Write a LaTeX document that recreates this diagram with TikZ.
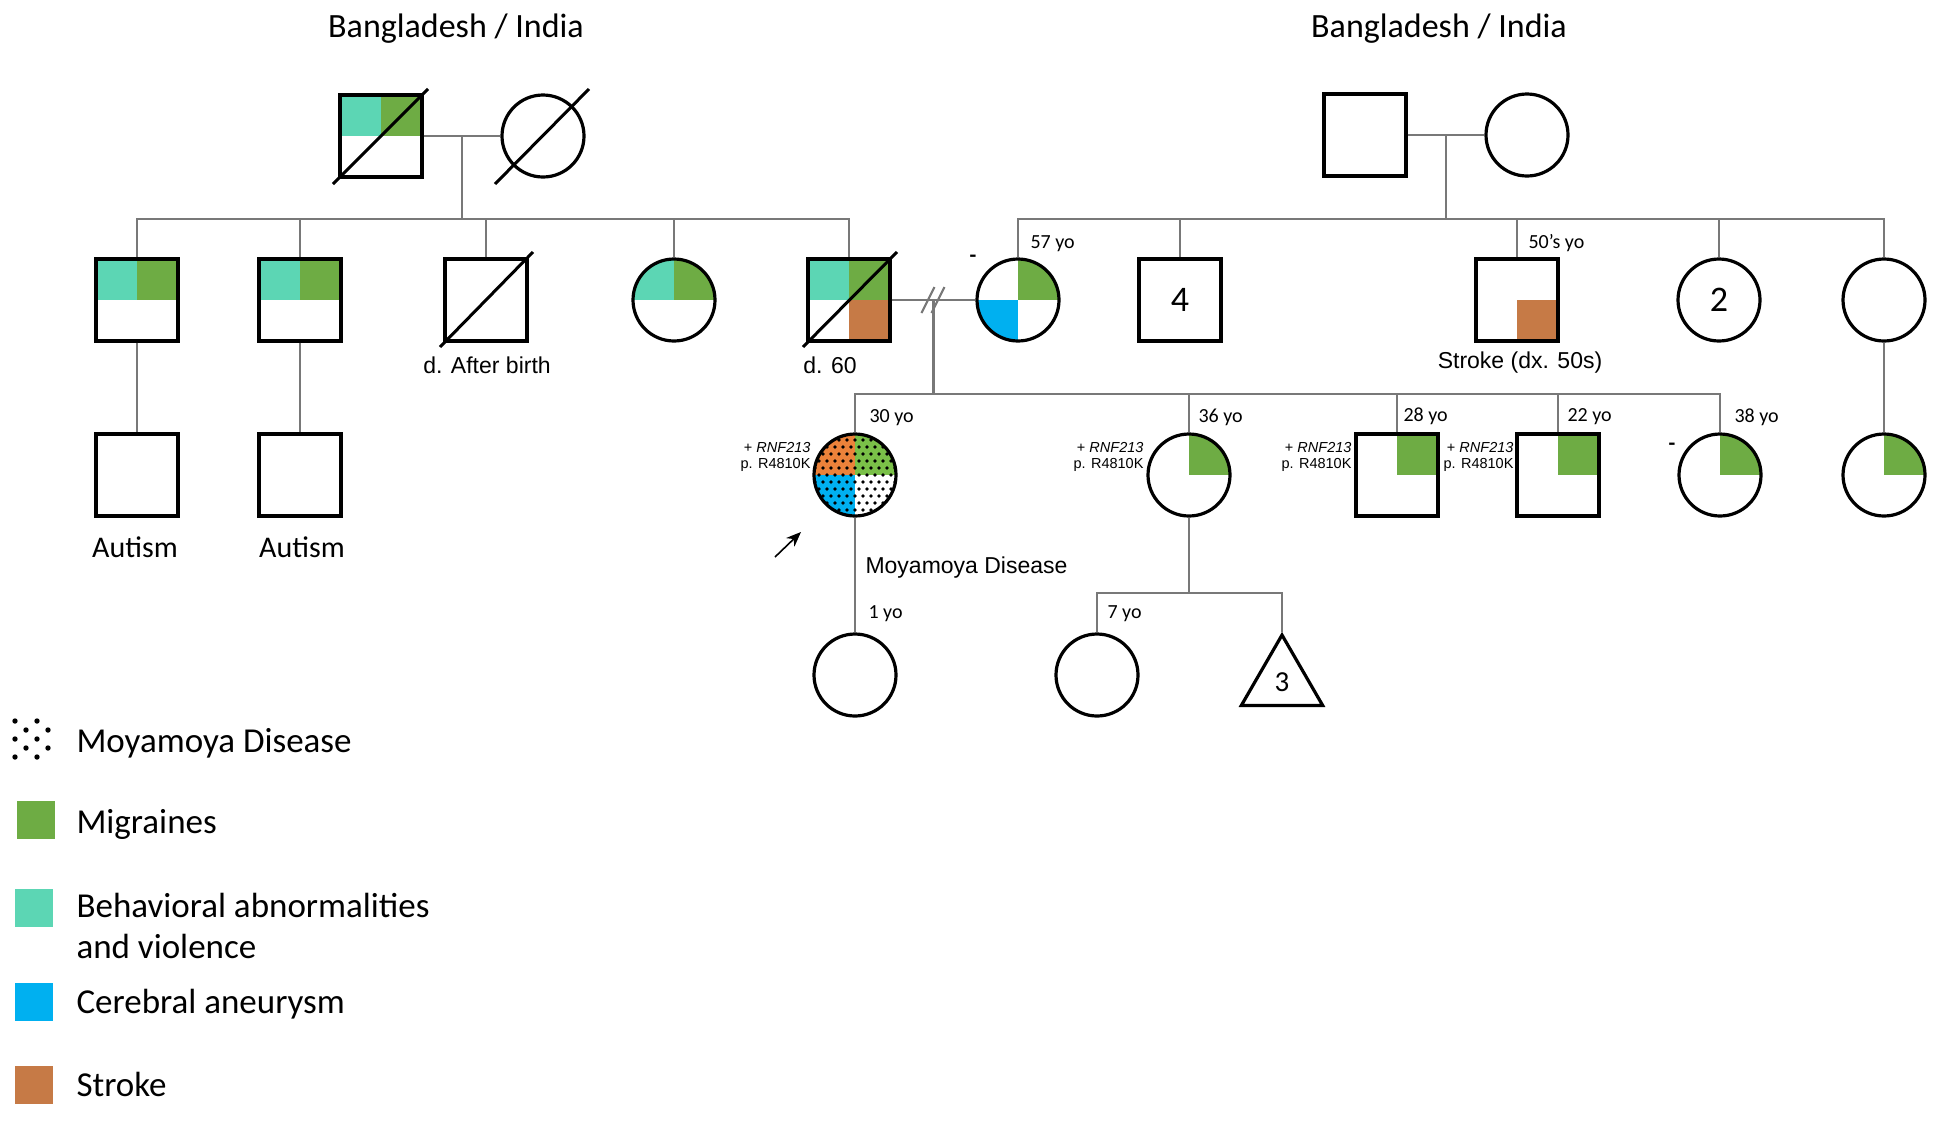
\documentclass[tikz,border=0pt]{standalone}
\usepackage{fontspec}
\setmainfont{Carlito}
\newfontfamily\arialf{Liberation Sans}
\usetikzlibrary{shapes.geometric,arrows.meta,calc}
\definecolor{teal1}{RGB}{92,214,180}
\definecolor{green1}{RGB}{110,172,68}
\definecolor{blue1}{RGB}{0,176,240}
\definecolor{brown1}{RGB}{198,122,70}
\definecolor{orange2}{RGB}{236,130,58}
\definecolor{green2}{RGB}{122,192,72}
\definecolor{linegray}{RGB}{120,120,120}
\newcommand{\fsz}[2]{\fontsize{#1}{#2}\selectfont}
\begin{document}
\begin{tikzpicture}[x=1pt,y=-1pt,
  male/.style={draw=black,line width=3.2pt,rectangle,minimum size=82pt,inner sep=0pt},
  female/.style={draw=black,line width=3.2pt,circle,minimum size=82pt,inner sep=0pt},
  conn/.style={draw=linegray,line width=2.2pt},
  deadline/.style={draw=black,line width=3pt},
  titletext/.style={font=\fsz{34}{40},anchor=base},
  agetext/.style={font=\fsz{20}{24},anchor=base west},
  genetext/.style={font=\arialf\fsz{14.5}{16.5},align=right,anchor=east,text=black},
  lbltext/.style={font=\arialf\fsz{23}{28},anchor=base},
  legtext/.style={font=\fsz{35}{41},anchor=base west},
  swatch/.style={rectangle,minimum size=38pt,inner sep=0pt},
  numtext/.style={font=\fsz{36}{40}},
  dashmark/.style={font=\fsz{22}{26}\bfseries,inner sep=0pt},
]
\useasboundingbox (0,0) rectangle (1933,1120);

% ---------- centres ----------
\coordinate (cA) at (381,136);
\coordinate (cB) at (543,136);
\coordinate (cC) at (1365,135);
\coordinate (cD) at (1527,135);
\coordinate (c21) at (137,300);
\coordinate (c22) at (300,300);
\coordinate (c23) at (486,300);
\coordinate (c24) at (674,300);
\coordinate (c25) at (849,300);
\coordinate (c26) at (1018,300);
\coordinate (c27) at (1180,300);
\coordinate (c28) at (1517,300);
\coordinate (c29) at (1719,300);
\coordinate (c2a) at (1884,300);
\coordinate (c31) at (137,475);
\coordinate (c32) at (300,475);
\coordinate (c33) at (855,475);
\coordinate (c34) at (1189,475);
\coordinate (c35) at (1397,475);
\coordinate (c36) at (1558,475);
\coordinate (c37) at (1720,475);
\coordinate (c38) at (1884,475);
\coordinate (c41) at (855,675);
\coordinate (c42) at (1097,675);

% ---------- fills ----------
\fill[teal1] (cA) rectangle ++(-41,-41);
\fill[green1] (cA) rectangle ++(41,-41);
\fill[teal1] (c21) rectangle ++(-41,-41);
\fill[green1] (c21) rectangle ++(41,-41);
\fill[teal1] (c22) rectangle ++(-41,-41);
\fill[green1] (c22) rectangle ++(41,-41);
\begin{scope}
  \clip (c24) circle (41);
  \fill[teal1] (c24) rectangle ++(-41,-41);
  \fill[green1] (c24) rectangle ++(41,-41);
\end{scope}
\fill[teal1] (c25) rectangle ++(-41,-41);
\fill[green1] (c25) rectangle ++(41,-41);
\fill[brown1] (c25) rectangle ++(41,41);
\begin{scope}
  \clip (c26) circle (41);
  \fill[green1] (c26) rectangle ++(41,-41);
  \fill[blue1] (c26) rectangle ++(-41,41);
\end{scope}
\fill[brown1] (c28) rectangle ++(41,41);
% proband
\begin{scope}
  \clip (c33) circle (41);
  \fill[orange2] (c33) rectangle ++(-41,-41);
  \fill[green2] (c33) rectangle ++(41,-41);
  \fill[blue1] (c33) rectangle ++(-41,41);
  \foreach \r in {0,...,12}{
    \foreach \c in {0,...,11}{
      \pgfmathsetmacro{\dx}{\c*8-44+4*mod(\r,2)}
      \pgfmathsetmacro{\dy}{\r*7-42}
      \fill[black] (c33) ++(\dx,\dy) circle (1.8);
    }
  }
\end{scope}
\begin{scope}
  \clip (c34) circle (41);
  \fill[green1] (c34) rectangle ++(41,-41);
\end{scope}
\fill[green1] (c35) rectangle ++(41,-41);
\fill[green1] (c36) rectangle ++(41,-41);
\begin{scope}
  \clip (c37) circle (41);
  \fill[green1] (c37) rectangle ++(41,-41);
\end{scope}
\begin{scope}
  \clip (c38) circle (41);
  \fill[green1] (c38) rectangle ++(41,-41);
\end{scope}

% ---------- individuals ----------
\node[male] (gA) at (cA) {};
\node[female] (gB) at (cB) {};
\node[male] (gC) at (cC) {};
\node[female] (gD) at (cD) {};
\node[male] (n21) at (c21) {};
\node[male] (n22) at (c22) {};
\node[male] (n23) at (c23) {};
\node[female] (n24) at (c24) {};
\node[male] (n25) at (c25) {};
\node[female] (n26) at (c26) {};
\node[male,numtext] (n27) at (c27) {4};
\node[male] (n28) at (c28) {};
\node[female,numtext] (n29) at (c29) {2};
\node[female] (n2a) at (c2a) {};
\node[male] (n31) at (c31) {};
\node[male] (n32) at (c32) {};
\node[female] (n33) at (c33) {};
\node[female] (n34) at (c34) {};
\node[male] (n35) at (c35) {};
\node[male] (n36) at (c36) {};
\node[female] (n37) at (c37) {};
\node[female] (n38) at (c38) {};
\node[female] (n41) at (c41) {};
\node[female] (n42) at (c42) {};
\node[draw=black,line width=3.2pt,regular polygon,regular polygon sides=3,minimum size=94pt,inner sep=0pt,font=\fsz{29}{32}] (tri) at (1282,682) {3};

% deceased lines
\draw[deadline] ($(cA)+(-48,48)$) -- ($(cA)+(47,-47)$);
\draw[deadline] ($(cB)+(-48,48)$) -- ($(cB)+(46,-47)$);
\draw[deadline] ($(c23)+(-46,47)$) -- ($(c23)+(47,-48)$);
\draw[deadline] ($(c25)+(-46,47)$) -- ($(c25)+(48,-48)$);

% ---------- connectors ----------
\coordinate (s1) at (0,219);
\coordinate (s3) at (0,394);
\coordinate (s4) at (0,593);
% left family
\draw[conn] (gA.east) -- (gB.west);
\coordinate (m1) at ($(gA.east)!0.5!(gB.west)$);
\draw[conn] (m1) -- (m1 |- s1);
\draw[conn] (n21.north) -- (n21.north |- s1) -| (n25.north);
\foreach \n in {n22,n23,n24} \draw[conn] (\n.north) -- (\n.north |- s1);
% right family
\draw[conn] (gC.east) -- (gD.west);
\coordinate (m2) at ($(gC.east)!0.5!(gD.west)$);
\draw[conn] (m2) -- (m2 |- s1);
\draw[conn] (n26.north) -- (n26.north |- s1) -| (n2a.north);
\foreach \n in {n27,n28,n29} \draw[conn] (\n.north) -- (\n.north |- s1);
% separated couple
\draw[conn] (n25.east) -- (n26.west);
\coordinate (m3) at ($(n25.east)!0.5!(n26.west)$);
\draw[conn] ($(m3)+(-12,13)$) -- ($(m3)+(1,-13)$);
\draw[conn] ($(m3)+(-2,13)$) -- ($(m3)+(11,-13)$);
\draw[conn] (m3) -- (m3 |- s3);
\draw[conn] (n33.north) -- (n33.north |- s3) -| (n37.north);
\foreach \n in {n34,n35,n36} \draw[conn] (\n.north) -- (\n.north |- s3);
% other descents
\draw[conn] (n21.south) -- (n31.north);
\draw[conn] (n22.south) -- (n32.north);
\draw[conn] (n2a.south) -- (n38.north);
\draw[conn] (n33.south) -- (n41.north);
\draw[conn] (n34.south) -- (n34.south |- s4);
\draw[conn] (n42.north) -- (n42.north |- s4) -| (tri.north);

% proband arrow
\coordinate (arS) at (775,557);
\coordinate (arE) at (801,532);
\draw[line width=1.6pt,-{Stealth[length=15pt,width=12pt]}] (arS) -- (arE);

% ---------- texts ----------
\node[titletext] (t1) at (456,37) {Bangladesh / India};
\node[titletext] (t2) at (1439,37) {Bangladesh / India};
\node[lbltext] (l1) at (487,373) {d. After birth};
\node[lbltext] (l2) at (830,373) {d. 60};
\node[lbltext] (l3) at (1520,368) {Stroke (dx. 50s)};
\node[lbltext,anchor=base west] (l4) at (862,573) {Moyamoya Disease};
\node[font=\fsz{30}{36},anchor=base] (au1) at (135,557) {Autism};
\node[font=\fsz{30}{36},anchor=base] (au2) at (302,557) {Autism};

\node[agetext] (a1) at (1027,248) {57 yo};
\node[agetext] (a2) at (1525,248) {50’s yo};
\node[agetext] (a3) at (866,422) {30 yo};
\node[agetext] (a4) at (1195,422) {36 yo};
\node[agetext] (a5) at (1400,421) {28 yo};
\node[agetext] (a6) at (1564,421) {22 yo};
\node[agetext] (a7) at (1731,422) {38 yo};
\node[agetext] (a8) at (865,618) {1 yo};
\node[agetext] (a9) at (1104,618) {7 yo};

\node[genetext] (g1) at (814,457) {+ \textit{RNF213}\\p. R4810K};
\node[genetext] (g2) at (1147,457) {+ \textit{RNF213}\\p. R4810K};
\node[genetext] (g3) at (1355,457) {+ \textit{RNF213}\\p. R4810K};
\node[genetext] (g4) at (1517,457) {+ \textit{RNF213}\\p. R4810K};

\node[dashmark] (d1) at (973,259) {-};
\node[dashmark] (d2) at (1672,447) {-};

% ---------- legend ----------
\foreach \k in {0,...,4}{
  \foreach \j in {0,...,3}{
    \pgfmathtruncatemacro{\pty}{mod(\j+\k,2)}
    \ifnum\pty=0
      \fill[black] (15+\j*11,721+\k*9) circle (2.7);
    \fi
  }
}
\node[swatch,fill=green1] (sw1) at (36,820) {};
\node[swatch,fill=teal1] (sw2) at (34,908) {};
\node[swatch,fill=blue1] (sw3) at (34,1002) {};
\node[swatch,fill=brown1] (sw4) at (34,1085) {};
\node[legtext] (lg1) at (73,752) {Moyamoya Disease};
\node[legtext] (lg2) at (73,833) {Migraines};
\node[legtext] (lg3) at (73,917) {Behavioral abnormalities};
\node[legtext] (lg4) at (73,958) {and violence};
\node[legtext] (lg5) at (73,1013) {Cerebral aneurysm};
\node[legtext] (lg6) at (73,1096) {Stroke};
\end{tikzpicture}
\end{document}
